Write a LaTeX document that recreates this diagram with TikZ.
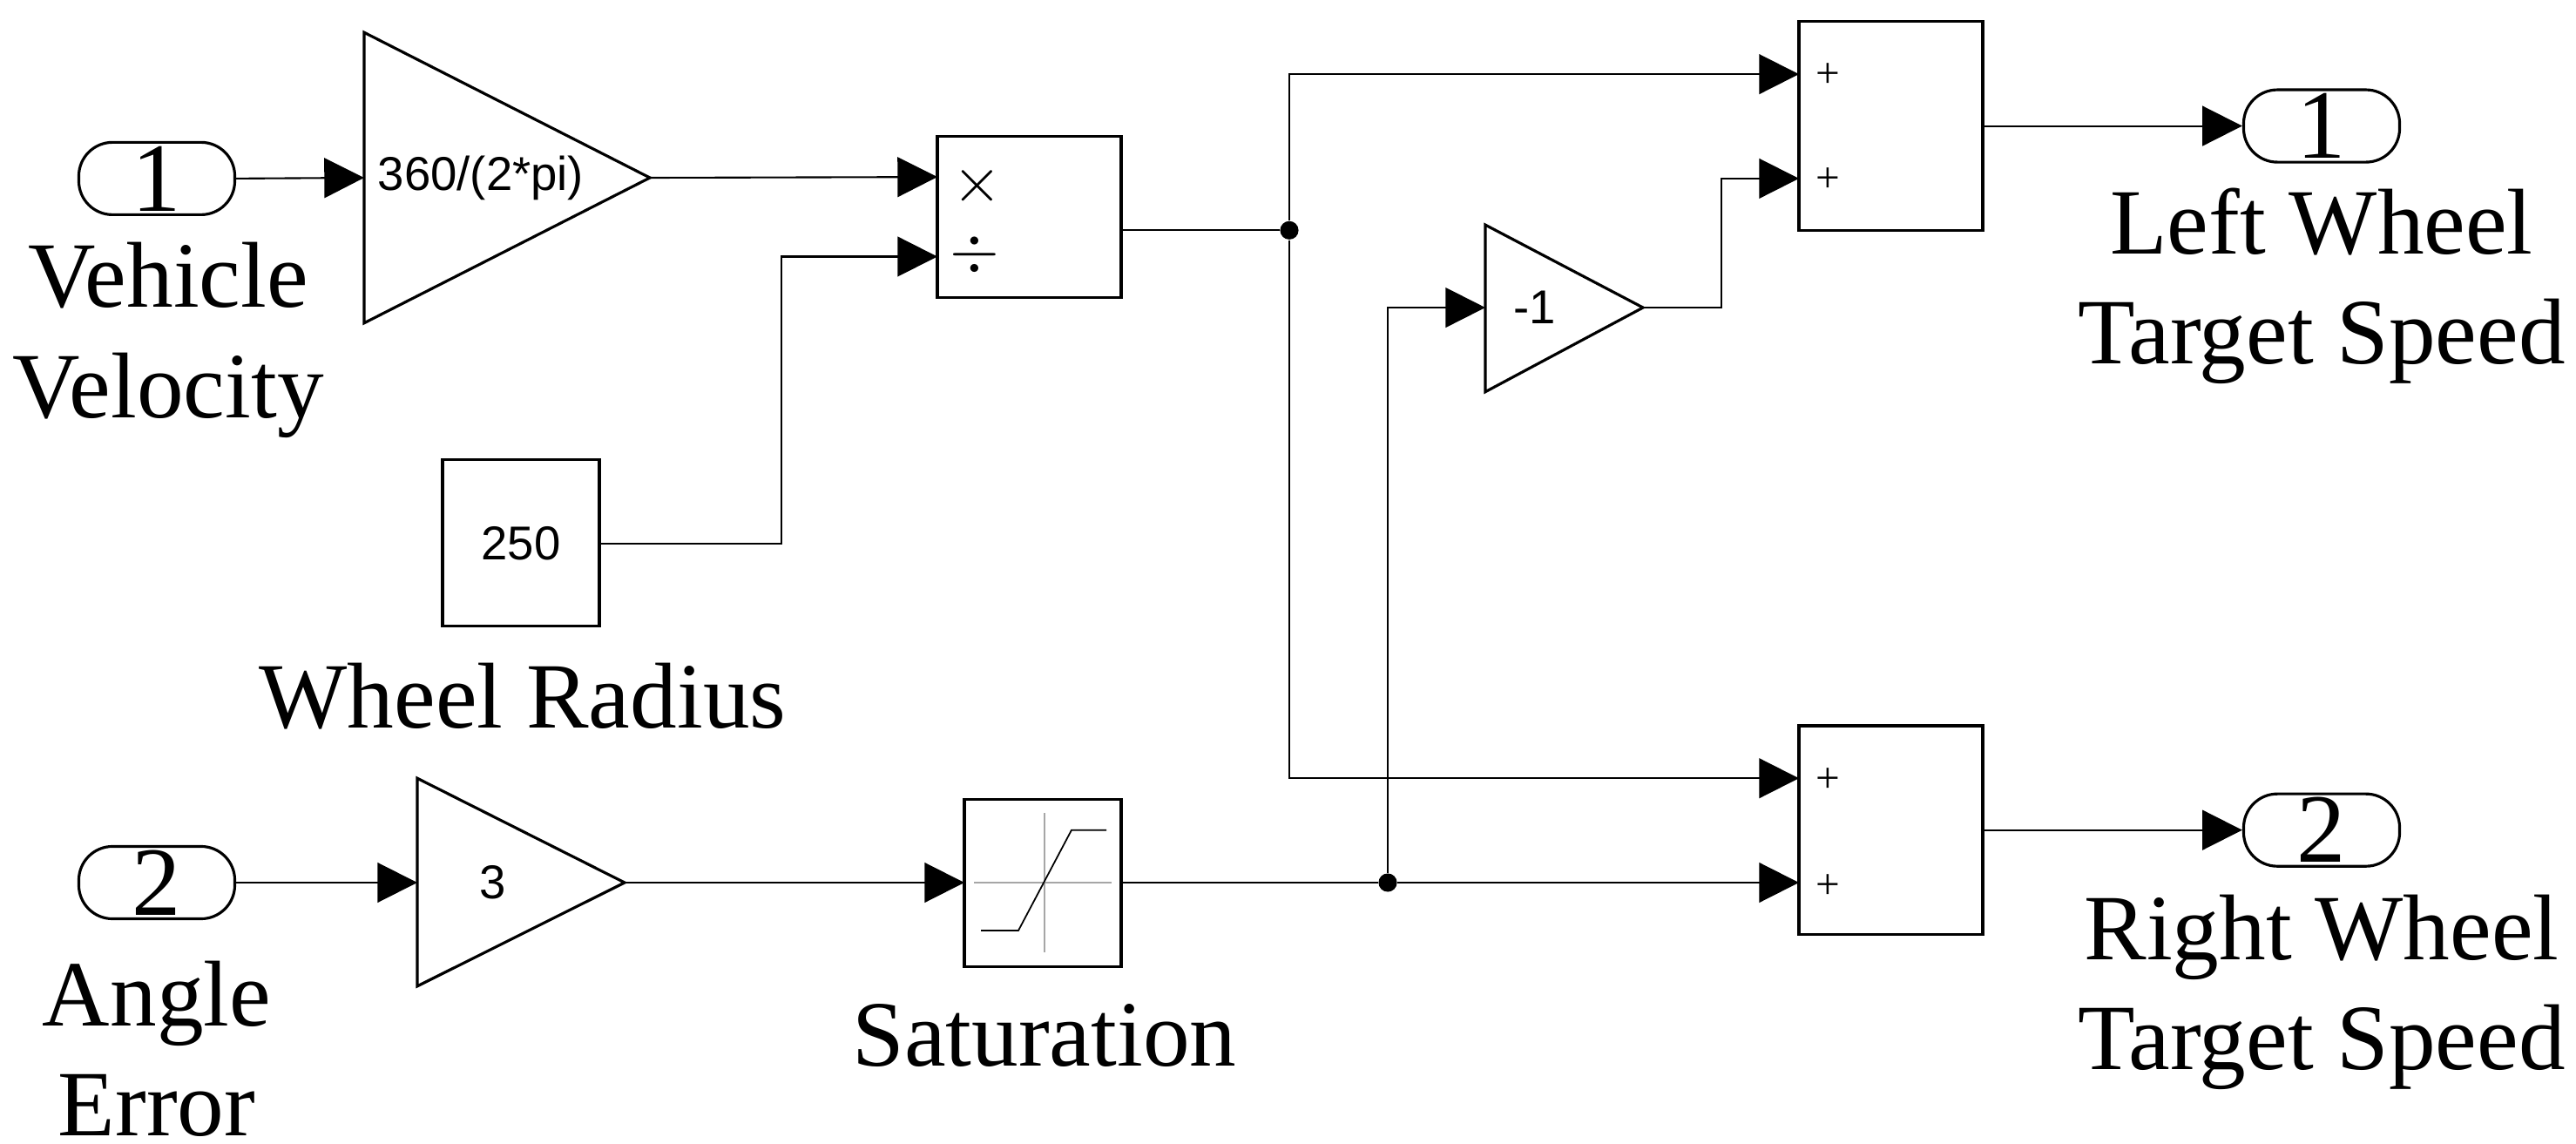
\documentclass[tikz,border=0pt]{standalone}
\usepackage{fontspec}
\setmainfont{Liberation Serif}
\newfontfamily\arialf{Liberation Sans}
\usetikzlibrary{arrows.meta}
\begin{document}
\begin{tikzpicture}[x=0.01cm,y=-0.008866cm,
  wire/.style={line width=0.6pt,-{Triangle[length=13pt,width=13pt]}},
  line/.style={line width=0.6pt},
  blk/.style={draw,line width=0.9pt,fill=white},
  port/.style={draw,line width=0.9pt,rounded corners=11pt,minimum width=179*0.2845pt,minimum height=83*0.2845pt,inner sep=0pt,font=\fontsize{32pt}{32pt}\selectfont},
  lbl/.style={align=center,font=\fontsize{30.5pt}{36pt}\selectfont,inner sep=0pt},
  gtxt/.style={font=\arialf\fontsize{15.5pt}{15.5pt}\selectfont,inner sep=0pt},
  dot/.style={circle,fill=black,inner sep=0pt,minimum size=6pt}]
\useasboundingbox (0,0) rectangle (2957,1480);
% ports
\node[port] (in1) at (180,231) {1};
\node[port] (in2) at (180,1142) {2};
\node[port] (out1) at (2665,163) {1};
\node[port] (out2) at (2665,1074) {2};
\node[lbl] (lvv) at (193,440) {Vehicle\\Velocity};
\node[lbl] (lae) at (180,1357) {Angle\\Error};
\node[lbl] (lwr) at (600,901) {Wheel Radius};
\node[lbl] (lsat) at (1199,1340) {Saturation};
\node[lbl] (llw) at (2665,370) {Left Wheel\\Target Speed};
\node[lbl] (lrw) at (2665,1284) {Right Wheel\\Target Speed};
% gain 360/(2pi)
\draw[blk] (418,42) -- (746,230) -- (418,418) -- cycle;
\coordinate (g1i) at (418,230); \coordinate (g1o) at (746,230);
\node[gtxt] (g1t) at (552,230) {360/(2*pi)};
% gain 3
\draw[blk] (479,1007) -- (717,1142) -- (479,1276) -- cycle;
\coordinate (g3i) at (479,1142); \coordinate (g3o) at (717,1142);
\node[gtxt] (g3t) at (566,1142) {3};
% gain -1
\draw[blk] (1705,291) -- (1886,398) -- (1705,507) -- cycle;
\coordinate (gmi) at (1705,398); \coordinate (gmo) at (1886,398);
\node[gtxt] (gmt) at (1762,398) {-1};
% product
\draw[blk] (1076,176) rectangle (1287,385);
\coordinate (p1) at (1076,229); \coordinate (p2) at (1076,332); \coordinate (po) at (1287,298);
\node[inner sep=0pt,font=\fontsize{20pt}{20pt}\selectfont] (ptx) at (1122,241) {$\times$};
\node[inner sep=0pt,font=\fontsize{20pt}{20pt}\selectfont] (pdv) at (1119,330) {$\div$};
% constant
\draw[blk] (508,595) rectangle (688,810);
\coordinate (co) at (688,703);
\node[gtxt] (ct) at (598,703) {250};
% saturation
\draw[blk] (1107,1034) rectangle (1287,1251);
\coordinate (si) at (1107,1142); \coordinate (so) at (1287,1142);
\draw[gray!70,line width=0.4pt] (1118,1142) -- (1276,1142) (1199,1052) -- (1199,1232);
\draw[line width=0.5pt] (1126,1204) -- (1169,1204) -- (1230,1074) -- (1270,1074);
% sums
\draw[blk] (2065,28) rectangle (2276,298);
\coordinate (s1a) at (2065,96); \coordinate (s1b) at (2065,231); \coordinate (s1o) at (2276,163);
\draw[blk] (2065,939) rectangle (2276,1209);
\coordinate (s2a) at (2065,1007); \coordinate (s2b) at (2065,1142); \coordinate (s2o) at (2276,1074);
\foreach \yy/\nm in {98/a,233/b,1010/c,1147/d}{\node[font=\fontsize{14pt}{14pt}\selectfont,inner sep=0pt] (plus\nm) at (2098,\yy) {+};}
% junctions
\node[dot] (j1) at (1480,298) {};
\node[dot] (j2) at (1593,1142) {};
% wires
\draw[wire] (in1.east) -- (g1i);
\draw[wire] (g1o) -- (p1);
\draw[wire] (co) -- (897,703) |- (p2);
\draw[line] (po) -- (j1);
\draw[wire] (j1) |- (s1a);
\draw[wire] (j1) |- (s2a);
\draw[wire] (in2.east) -- (g3i);
\draw[wire] (g3o) -- (si);
\draw[line] (so) -- (j2);
\draw[wire] (j2) -- (s2b);
\draw[wire] (j2) |- (gmi);
\draw[wire] (gmo) -- (1976,398) |- (s1b);
\draw[wire] (s1o) -- (out1.west);
\draw[wire] (s2o) -- (out2.west);
\end{tikzpicture}
\end{document}
